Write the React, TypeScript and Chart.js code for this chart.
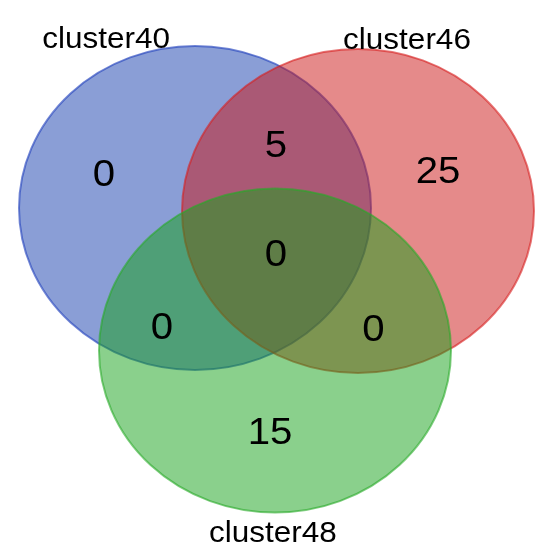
import React, { useEffect, useRef } from "react";
import { Chart, registerables } from "chart.js";

Chart.register(...registerables);

// Sets (circles of radius 1 in data space; the axes' aspect makes them ellipses)
const setNames = ["cluster40", "cluster46", "cluster48"];
const setCenterX = [-0.4545, 0.4716, 0.0];
const setCenterY = [0.321, 0.3025, -0.5586];
const setRadius = [1, 1, 1];
const setFill = ["rgba(21,61,173,0.5)", "rgba(203,21,21,0.5)", "rgba(21,161,25,0.5)"];
const setEdge = ["rgba(40,70,190,0.65)", "rgba(215,30,30,0.6)", "rgba(40,170,40,0.6)"];

// Set label anchor points (baseline centre)
const labelX = [-0.96, 0.75, -0.0114];
const labelY = [1.309, 1.303, -1.741];

// Region counts
const regionNames = ["40 only", "46 only", "48 only", "40∩46", "40∩48", "46∩48", "40∩46∩48"];
const regionCounts = [0, 25, 15, 5, 0, 0, 0];
const regionX = [-0.9716, 0.926, -0.0284, 0.0057, -0.642, 0.5597, 0.0057];
const regionY = [0.4537, 0.475, -1.136, 0.636, -0.488, -0.5012, -0.0370];

const X_MIN = -1.5625;
const X_MAX = 1.5341;
const Y_MIN = -1.821;
const Y_MAX = 1.6049;
const STRETCH = 1.086;

const vennPlugin = {
  id: "venn",
  afterDatasetsDraw(chart: any) {
    const ctx = chart.ctx;
    const xs = chart.scales.x;
    const ys = chart.scales.y;
    ctx.save();
    for (let i = 0; i < setNames.length; i++) {
      const cx = xs.getPixelForValue(setCenterX[i]);
      const cy = ys.getPixelForValue(setCenterY[i]);
      const rx = Math.abs(xs.getPixelForValue(setCenterX[i] + setRadius[i]) - cx);
      const ry = Math.abs(ys.getPixelForValue(setCenterY[i] + setRadius[i]) - cy);
      ctx.beginPath();
      ctx.ellipse(cx, cy, rx, ry, 0, 0, Math.PI * 2);
      ctx.fillStyle = setFill[i];
      ctx.fill();
      ctx.lineWidth = 2;
      ctx.strokeStyle = setEdge[i];
      ctx.stroke();
    }
    ctx.fillStyle = "#000";
    ctx.textAlign = "center";
    ctx.textBaseline = "alphabetic";
    const drawText = (t: string, x: number, y: number, size: number) => {
      ctx.save();
      ctx.translate(x, y);
      ctx.scale(STRETCH, 1);
      ctx.font = `${size}px "Liberation Sans", Arial, sans-serif`;
      ctx.fillText(t, 0, 0);
      ctx.restore();
    };
    for (let i = 0; i < regionCounts.length; i++) {
      drawText(
        String(regionCounts[i]),
        xs.getPixelForValue(regionX[i]),
        ys.getPixelForValue(regionY[i]),
        37
      );
    }
    for (let i = 0; i < setNames.length; i++) {
      drawText(setNames[i], xs.getPixelForValue(labelX[i]), ys.getPixelForValue(labelY[i]), 29);
    }
    ctx.restore();
  },
};

export default function App() {
  const ref = useRef<HTMLCanvasElement | null>(null);
  useEffect(() => {
    document.body.style.margin = "0";
    const canvas = ref.current;
    if (!canvas) return;
    const chart = new Chart(canvas, {
      type: "scatter",
      data: {
        datasets: setNames.map((n, i) => ({
          label: n,
          data: [{ x: setCenterX[i], y: setCenterY[i] }],
          pointRadius: 0,
          pointHoverRadius: 0,
        })),
      },
      options: {
        responsive: false,
        animation: false,
        events: [],
        layout: { padding: 0 },
        plugins: { legend: { display: false }, tooltip: { enabled: false } },
        scales: {
          x: { type: "linear", min: X_MIN, max: X_MAX, display: false },
          y: { type: "linear", min: Y_MIN, max: Y_MAX, display: false },
        },
      },
      plugins: [vennPlugin],
    });
    return () => chart.destroy();
  }, []);
  return (
    <div style={{ position: "absolute", left: 0, top: 0, width: 545, height: 555, background: "#fff" }}>
      <canvas ref={ref} width={545} height={555} style={{ display: "block" }} />
    </div>
  );
}
